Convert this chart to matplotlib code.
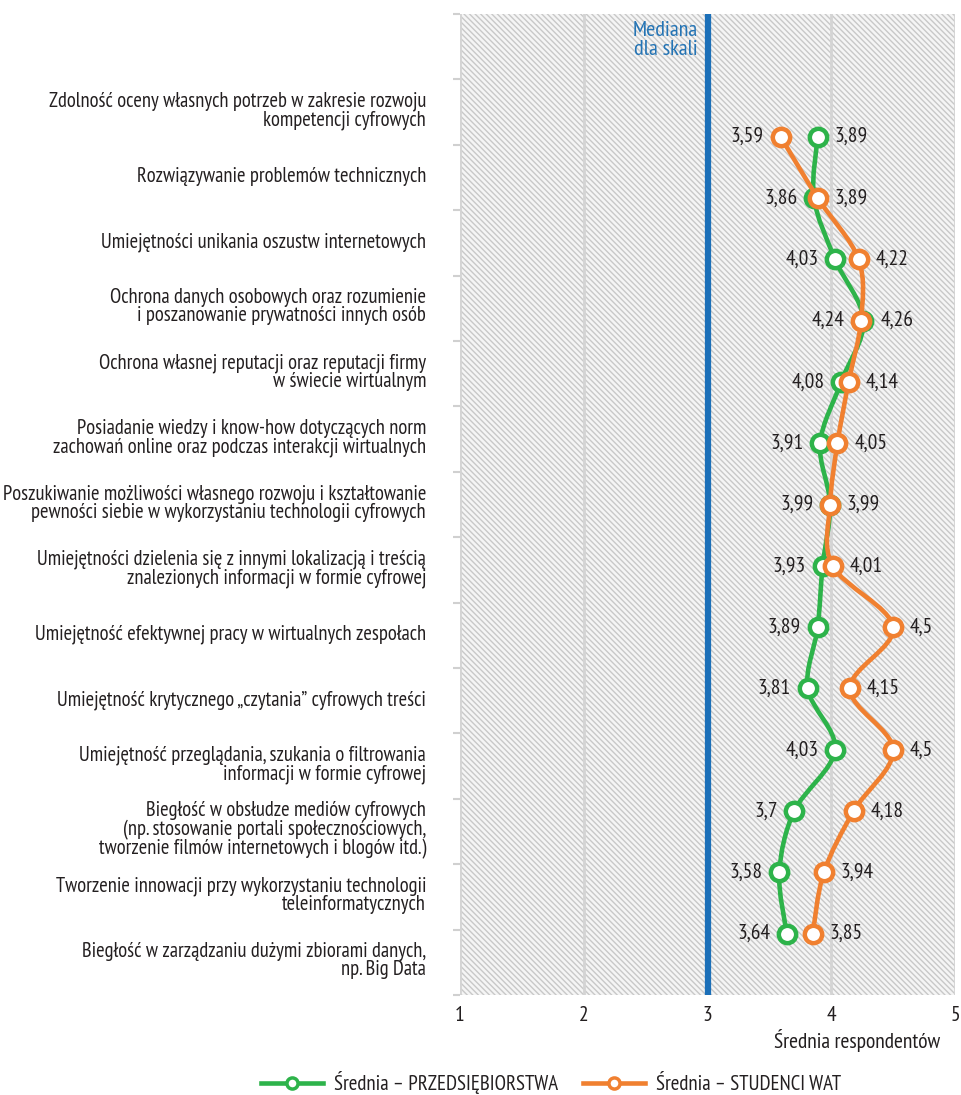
import matplotlib
matplotlib.use("Agg")
import matplotlib.pyplot as plt
from matplotlib import font_manager as fm
from matplotlib.path import Path
from matplotlib.patches import PathPatch, Rectangle
from matplotlib.lines import Line2D
import numpy as np

# pick a condensed family if one is installed
installed = {f.name for f in fm.fontManager.ttflist}
wanted = ["PT Sans Narrow", "Fira Sans Condensed", "Roboto Condensed", "Open Sans Condensed",
          "Asap Condensed", "Encode Sans Condensed", "IBM Plex Sans Condensed",
          "Archivo Narrow", "Liberation Sans Narrow", "Barlow Semi Condensed"]
family = [f for f in wanted if f in installed][:1] + ["DejaVu Sans"]
plt.rcParams["font.family"] = family
plt.rcParams["hatch.linewidth"] = 1.0

# ---- data ----
categories = [
    "Zdolność oceny własnych potrzeb w zakresie rozwoju\nkompetencji cyfrowych",
    "Rozwiązywanie problemów technicznych",
    "Umiejętności unikania oszustw internetowych",
    "Ochrona danych osobowych oraz rozumienie\ni poszanowanie prywatności innych osób",
    "Ochrona własnej reputacji oraz reputacji firmy\nw świecie wirtualnym",
    "Posiadanie wiedzy i know-how dotyczących norm\nzachowań online oraz podczas interakcji wirtualnych",
    "Poszukiwanie możliwości własnego rozwoju i kształtowanie\npewności siebie w wykorzystaniu technologii cyfrowych",
    "Umiejętności dzielenia się z innymi lokalizacją i treścią\nznalezionych informacji w formie cyfrowej",
    "Umiejętność efektywnej pracy w wirtualnych zespołach",
    "Umiejętność krytycznego „czytania” cyfrowych treści",
    "Umiejętność przeglądania, szukania o filtrowania\ninformacji w formie cyfrowej",
    "Biegłość w obsłudze mediów cyfrowych\n(np. stosowanie portali społecznościowych,\ntworzenie filmów internetowych i blogów itd.)",
    "Tworzenie innowacji przy wykorzystaniu technologii\nteleinformatycznych",
    "Biegłość w zarządzaniu dużymi zbiorami danych,\nnp. Big Data",
]
firms = [3.89, 3.86, 4.03, 4.26, 4.08, 3.91, 3.99, 3.93, 3.89, 3.81, 4.03, 3.70, 3.58, 3.64]
students = [3.59, 3.89, 4.22, 4.24, 4.14, 4.05, 3.99, 4.01, 4.50, 4.15, 4.50, 4.18, 3.94, 3.85]
series_names = ["Średnia – PRZEDSIĘBIORSTWA", "Średnia – STUDENCI WAT"]
x_ticks = [1, 2, 3, 4, 5]
median = 3

GREEN = "#2db34a"
ORANGE = "#f08030"
BLUE = "#1b6fb8"
TEXT = "#231f20"


def smooth_path(xs, ys):
    # Catmull-Rom style bezier through the points (like Excel smoothed lines)
    pts = np.column_stack([xs, ys])
    verts = [pts[0]]
    codes = [Path.MOVETO]
    n = len(pts)
    for i in range(n - 1):
        p0 = pts[i - 1] if i > 0 else pts[i]
        p1, p2 = pts[i], pts[i + 1]
        p3 = pts[i + 2] if i + 2 < n else pts[i + 1]
        c1 = p1 + (p2 - p0) / 6.0
        c2 = p2 - (p3 - p1) / 6.0
        verts += [c1, c2, p2]
        codes += [Path.CURVE4] * 3
    return Path(verts, codes)


fig = plt.figure(figsize=(9.61, 10.95), dpi=100)
ax = fig.add_axes([0.4787, 0.0913, 0.5151, 0.8959])

# hatched background
ax.patch.set_visible(False)
ax.add_patch(Rectangle((0, 0), 1, 1, transform=ax.transAxes, facecolor="#f5f5f5",
                       edgecolor="#c8c8c8", hatch="\\\\\\\\\\\\", lw=0, zorder=0))

ax.set_xlim(1, 5)
ax.set_ylim(15, 0)
ax.set_xticks(x_ticks)
ax.set_xticklabels([str(t) for t in x_ticks], fontsize=15.5, color=TEXT)
ax.tick_params(axis="x", length=0, pad=8)
ax.set_yticks(range(16))
ax.set_yticklabels([])
ax.tick_params(axis="y", length=5, color="#d0d0d0", width=1.5)
ax.set_yticks([k + 1.45 for k in range(len(categories))], minor=True)
ax.set_yticklabels(categories, minor=True, fontsize=14.8, color=TEXT, linespacing=0.95)
ax.tick_params(axis="y", which="minor", length=0, pad=24.5)
for s in ax.spines.values():
    s.set_visible(False)
for xv in x_ticks:
    ax.axvline(xv, color="#d4d4d4", lw=2, zorder=1)
ax.axvline(median, color=BLUE, lw=4.5, zorder=2)
ax.text(2.92, 0.1, "Mediana\ndla skali", color="#2474b5", fontsize=16,
        ha="right", va="top", linespacing=1.0)
ax.set_xlabel("Średnia respondentów", fontsize=15.5, color=TEXT)
ax.xaxis.set_label_coords(0.97, -0.035)
ax.xaxis.label.set_horizontalalignment("right")

# points on twin y scale
ax2 = ax.twinx()
ax2.set_ylim(14, -2)
ax2.set_yticks([])
for s in ax2.spines.values():
    s.set_visible(False)

idx = np.arange(len(categories))
for vals, col, z in [(firms, GREEN, 4), (students, ORANGE, 5)]:
    ax2.add_patch(PathPatch(smooth_path(vals, idx), facecolor="none",
                            edgecolor=col, lw=3.3, zorder=z, capstyle="round"))
    ax2.plot(vals, idx, ls="none", marker="o", ms=12.5, mfc="white",
             mec=col, mew=3.2, zorder=z + 0.5)

for i, (f, s) in enumerate(zip(firms, students)):
    lo, hi = min(f, s), max(f, s)
    ax2.annotate(f"{lo:g}".replace(".", ","), (lo, i), xytext=(-12, 0),
                 textcoords="offset points", ha="right", va="center",
                 fontsize=15.5, color=TEXT, zorder=7)
    ax2.annotate(f"{hi:g}".replace(".", ","), (hi, i), xytext=(12, 0),
                 textcoords="offset points", ha="left", va="center",
                 fontsize=15.5, color=TEXT, zorder=7)

handles = [
    Line2D([], [], color=GREEN, lw=3.3, marker="o", ms=8, mfc="white", mec=GREEN, mew=2.5),
    Line2D([], [], color=ORANGE, lw=3.3, marker="o", ms=8, mfc="white", mec=ORANGE, mew=2.5),
]
fig.legend(handles, series_names, loc="center", bbox_to_anchor=(0.573, 0.011),
           ncol=2, frameon=False, fontsize=15, handlelength=3.0,
           columnspacing=1.2, handletextpad=0.5, labelcolor=TEXT)

fig.savefig("out.png", dpi=100)
